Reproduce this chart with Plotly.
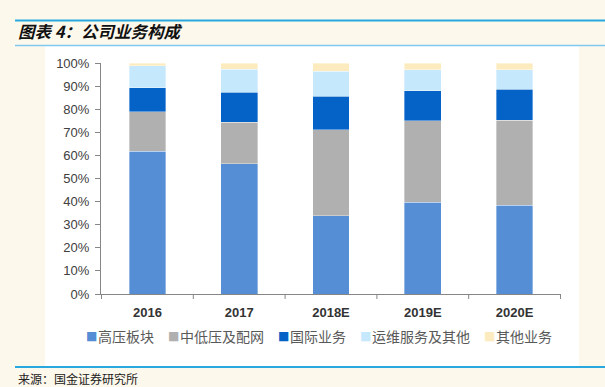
import plotly.graph_objects as go

categories = ["2016", "2017", "2018E", "2019E", "2020E"]
series_names = ["高压板块", "中低压及配网", "国际业务", "运维服务及其他", "其他业务"]
high_voltage = [61.9, 56.3, 33.9, 39.8, 38.5]
mid_low_grid = [16.9, 18.0, 37.2, 35.1, 36.7]
international = [10.5, 13.0, 14.6, 13.0, 13.4]
om_services = [9.5, 10.1, 10.7, 9.2, 8.5]
other_biz = [1.2, 2.6, 3.6, 2.9, 2.9]
y_ticks = [0, 10, 20, 30, 40, 50, 60, 70, 80, 90, 100]
y_tick_labels = [f"{v}%" for v in y_ticks]

colors = ["#558ED5", "#B0B0B0", "#0563C8", "#C5E8FD", "#FDEBC0"]
values = [high_voltage, mid_low_grid, international, om_services, other_biz]

W, H = 605, 387
L, R, T, B = 101, 561, 63, 294  # plot area in pixels


def px(x):
    return (x - L) / (R - L)


def py(y):
    return (B - y) / (B - T)


fig = go.Figure()
for name, vals, c in zip(series_names, values, colors):
    fig.add_trace(go.Bar(
        x=categories, y=vals, name=name,
        marker=dict(color=c, line=dict(color="rgba(255,255,255,0.6)", width=0.6)),
        width=0.4, showlegend=False,
    ))

shapes = [
    dict(type="rect", xref="paper", yref="paper", x0=px(45), x1=px(579), y0=py(46), y1=py(366),
         fillcolor="white", line=dict(width=0), layer="below"),
    dict(type="line", xref="paper", yref="paper", x0=px(15), x1=px(605), y0=py(20.5), y1=py(20.5),
         line=dict(color="#29A8E0", width=2)),
    dict(type="line", xref="paper", yref="paper", x0=px(15), x1=px(605), y0=py(45.5), y1=py(45.5),
         line=dict(color="#7FC8EE", width=1.5)),
    dict(type="line", xref="paper", yref="paper", x0=px(15), x1=px(605), y0=py(367), y1=py(367),
         line=dict(color="#29A8E0", width=2)),
]

annotations = [
    dict(text="<b><i>图表 4：公司业务构成</i></b>", xref="paper", yref="paper",
         x=px(16), y=py(31.5), xanchor="left", yanchor="middle", showarrow=False,
         font=dict(family="Noto Sans CJK SC", size=16.5, color="#111111")),
    dict(text="来源：国金证券研究所", xref="paper", yref="paper",
         x=px(16), y=py(378.5), xanchor="left", yanchor="middle", showarrow=False,
         font=dict(family="Noto Sans CJK SC", size=12, color="#222222")),
]

# legend built as text items (marker square + label)
leg_x = 84.0
leg_y = 336.0
char_w = 14.0
for name, c in zip(series_names, colors):
    annotations.append(dict(text="■", xref="paper", yref="paper", x=px(leg_x), y=py(leg_y),
                            xanchor="left", yanchor="middle", showarrow=False,
                            font=dict(family="DejaVu Sans", size=12, color=c)))
    annotations.append(dict(text=name, xref="paper", yref="paper", x=px(leg_x + 12), y=py(leg_y),
                            xanchor="left", yanchor="middle", showarrow=False,
                            font=dict(family="Noto Sans CJK SC", size=14, color="#595959")))
    leg_x += 12 + len(name) * char_w + 14

fig.update_layout(
    width=W, height=H,
    margin=dict(l=L, r=W - R, t=T, b=H - B, pad=0, autoexpand=False),
    barmode="stack",
    bargap=0.6,
    paper_bgcolor="#FDF8EC",
    plot_bgcolor="white",
    font=dict(family="Noto Sans CJK SC", size=13, color="#404040"),
    showlegend=False,
    shapes=shapes,
    annotations=annotations,
    xaxis=dict(showline=True, linecolor="#868686", linewidth=1, ticks="", showgrid=False,
               ticklabelstandoff=6,
               tickfont=dict(family="Liberation Sans", size=13, color="#333333", weight="bold")),
    yaxis=dict(range=[0, 100], tickvals=y_ticks, ticktext=y_tick_labels, showline=True,
               linecolor="#868686", linewidth=1, ticks="outside", ticklen=5, tickcolor="#868686",
               showgrid=False, zeroline=False, ticklabelstandoff=3,
               tickfont=dict(family="Liberation Sans", size=13, color="#404040")),
)

for i in range(len(categories) + 1):
    fig.add_shape(type="line", xref="x", yref="paper", x0=i - 0.5, x1=i - 0.5, y0=0, y1=-5 / (B - T),
                  line=dict(color="#868686", width=1))

fig.write_html(
    "out.html",
    config={"displayModeBar": False},
    post_script="document.body.style.margin='0px';document.body.style.padding='0px';"
                "document.body.style.overflow='hidden';",
)
